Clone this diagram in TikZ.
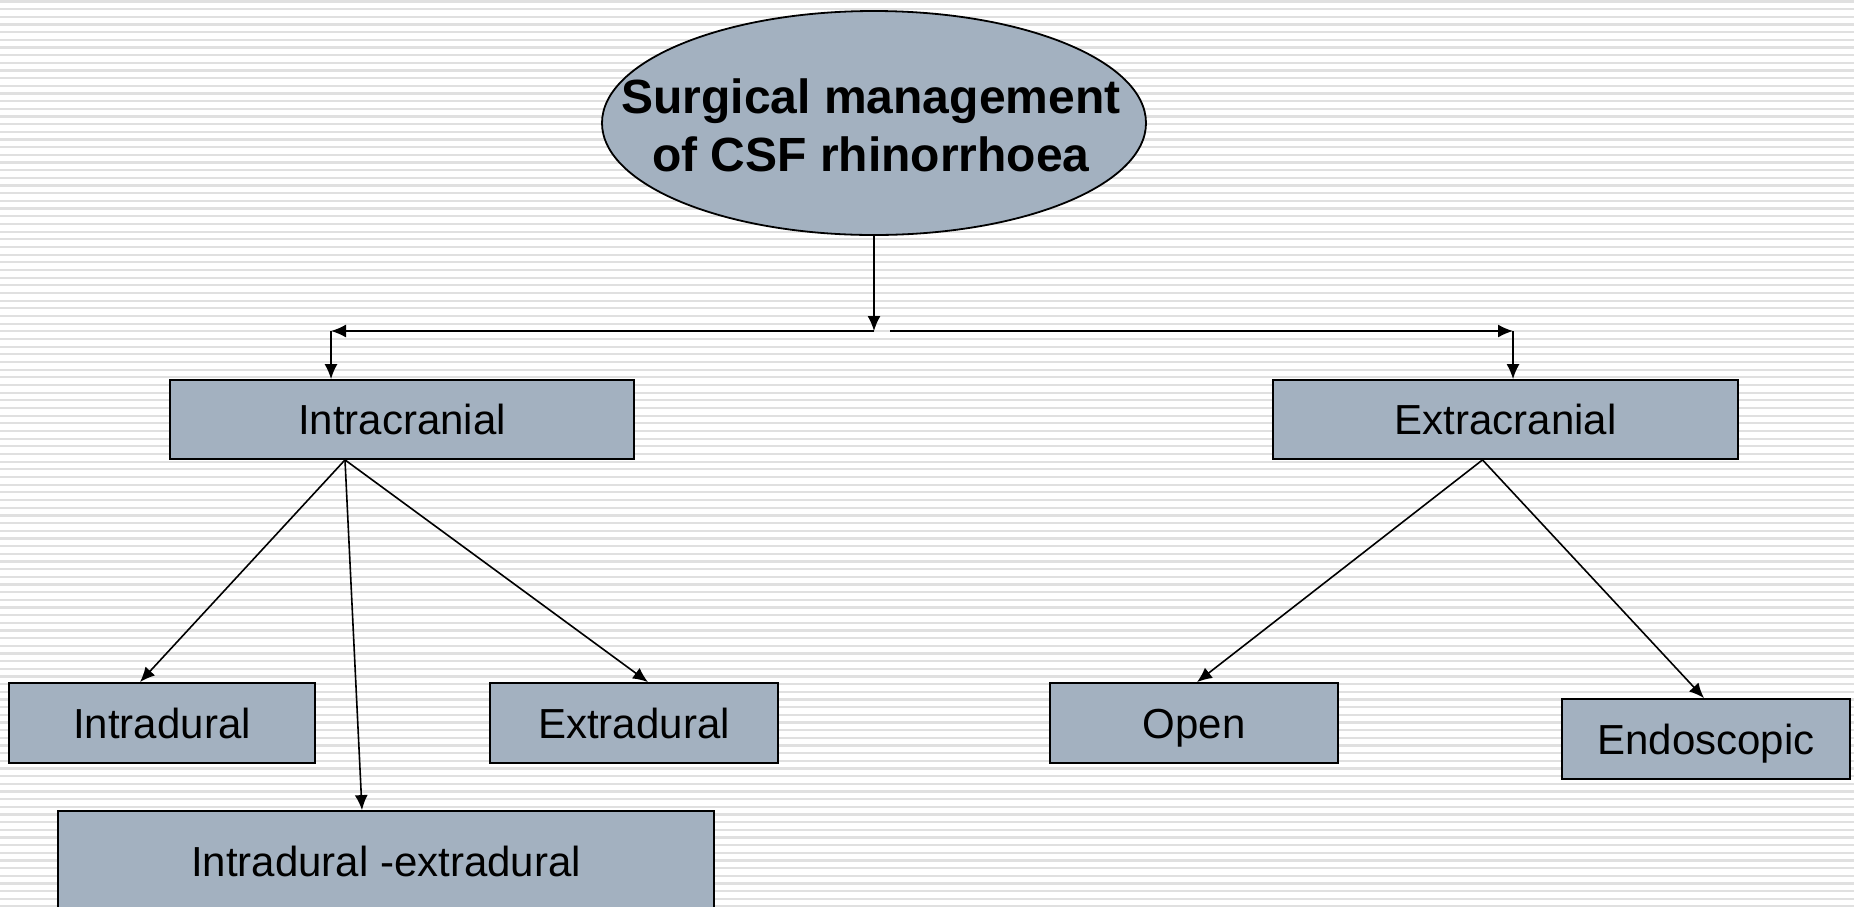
\documentclass[tikz,border=0pt]{standalone}
\usepackage{fontspec}
\setmainfont{Liberation Sans}
\usetikzlibrary{arrows.meta,shapes.geometric}
\definecolor{boxfill}{RGB}{163,177,192}
\definecolor{stripe}{RGB}{224,224,224}
\tikzset{
  box/.style={draw=black, line width=1.8pt, fill=boxfill, inner sep=0pt, text height=30pt, text depth=0pt, font=\fontsize{42}{48}\selectfont},
  conn/.style={line width=1.6pt, -{Latex[length=15pt,width=13pt]}},
  plain/.style={line width=1.6pt}
}
\begin{document}
\begin{tikzpicture}[x=1pt,y=-1pt]
\useasboundingbox (0,0) rectangle (1854,906);
\clip (0,0) rectangle (1854,906);
\fill[white] (0,0) rectangle (1854,906);
\foreach \i in {0,...,118} {
  \draw[stripe, line width=2.2pt] (0,{1.5+7.67*\i}) -- (1854,{1.5+7.67*\i});
}
% ellipse
\node[ellipse, draw=black, line width=1.8pt, fill=boxfill, minimum width=544pt, minimum height=224pt, inner sep=0pt] (ell) at (874,123) {};
\node[font=\fontsize{48}{58}\selectfont\bfseries, align=center, inner sep=0pt] (title) at (871,125) {Surgical management\\of CSF rhinorrhoea};
% boxes
\node[box, minimum width=464pt, minimum height=79pt] (intra) at (402,419.5) {Intracranial};
\node[box, minimum width=465pt, minimum height=79pt] (extra) at (1505.5,419.5) {Extracranial};
\node[box, minimum width=306pt, minimum height=80pt] (intrad) at (162,723) {Intradural};
\node[box, minimum width=288pt, minimum height=80pt] (extrad) at (634,723) {Extradural};
\node[box, minimum width=656pt, minimum height=100pt] (ie) at (386,861) {Intradural -extradural};
\node[box, minimum width=288pt, minimum height=80pt] (open) at (1194,723) {Open};
\node[box, minimum width=288pt, minimum height=80pt] (endo) at (1706,739) {Endoscopic};
% junction
\coordinate (j) at (874,331);
\coordinate (jl) at (331,331);
\coordinate (jr0) at (890,331);
\coordinate (jr) at (1513,331);
\draw[conn] (ell.south) -- (j);
\draw[conn] (j) -- (jl);
\draw[conn] (jl) -- (jl |- intra.north);
\draw[conn] (jr0) -- (jr);
\draw[conn] (jr) -- (jr |- extra.north);
% intracranial children
\coordinate (ic) at ([xshift=-57pt]intra.south);
\draw[conn] (ic) -- ([xshift=-22pt]intrad.north);
\draw[conn] (ic) -- ([xshift=-24pt]ie.north);
\draw[conn] (ic) -- ([xshift=14pt]extrad.north);
% extracranial children
\coordinate (ec) at ([xshift=-23pt]extra.south);
\draw[conn] (ec) -- ([xshift=3pt]open.north);
\draw[conn] (ec) -- ([xshift=-2pt]endo.north);
\end{tikzpicture}
\end{document}
